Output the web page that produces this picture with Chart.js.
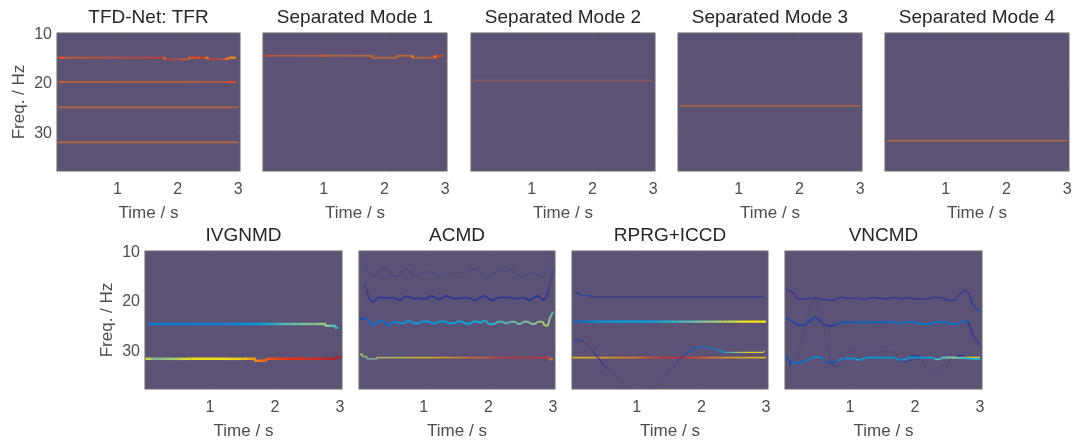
<!DOCTYPE html>
<html>
<head>
<meta charset="utf-8">
<title>TFD-Net</title>
<script src="https://cdn.jsdelivr.net/npm/chart.js@4"></script>
<style>
    html, body { margin: 0; padding: 0; background: #fff; width: 1075px; height: 445px; overflow: hidden; }
    canvas { position: absolute; }
</style>
</head>
<body>
<script>
// Tick labels and titles
const xTickLabels = [1, 2, 3];
const yTickLabels = [10, 20, 30];
const panelTitles = ['TFD-Net: TFR', 'Separated Mode 1', 'Separated Mode 2', 'Separated Mode 3', 'Separated Mode 4',
    'IVGNMD', 'ACMD', 'RPRG+ICCD', 'VNCMD'];

// TFD-Net: TFR
const tfrT1 = [0.03, 1.78, 2.18, 2.5, 2.84, 2.97];
const tfrF1 = [15, 15.3, 15, 15.3, 15, 15];
const tfrA1 = [0.75, 0.8, 0.75, 0.8, 0.75, 0.75];
const tfrT2 = [0.03, 2.97];
const tfrF2 = [19.9, 19.9];
const tfrA2 = [0.75, 0.76];
const tfrT3 = [0.02, 3];
const tfrF3 = [25, 25];
const tfrA3 = [0.74, 0.74];
const tfrT4 = [0.02, 3];
const tfrF4 = [32.1, 32.1];
const tfrA4 = [0.74, 0.74];
const tfrHotT = [0.04, 0.08, 0.11, 1.78, 2.19, 2.25, 2.3, 2.35, 2.4, 2.47, 2.5, 2.81, 2.86, 2.9, 2.94, 0.1, 2.87, 2.92];
const tfrHotF = [15, 15, 15, 15.1, 15, 15, 15, 15, 15, 15, 15.1, 15.2, 15, 15, 15, 19.9, 19.9, 19.9];
const tfrHotA = [0.8, 0.8, 0.78, 0.66, 0.78, 0.8, 0.8, 0.78, 0.8, 0.68, 0.64, 0.7, 0.68, 0.66, 0.68, 0.8, 0.8, 0.8];

// Separated modes
const sep1T = [0.05, 1.8, 2.2, 2.46, 2.83, 2.97];
const sep1F = [14.6, 15, 14.6, 15, 14.6, 14.6];
const sep1A = [0.76, 0.74, 0.74, 0.74, 0.76, 0.78];
const sep1HotT = [0.05, 1.0, 1.8, 2.46, 2.83, 2.86, 2.92];
const sep1HotF = [14.6, 14.6, 14.8, 14.8, 14.8, 15, 14.6];
const sep1HotA = [0.8, 0.78, 0.8, 0.7, 0.66, 0.8, 0.8];
const sep2T = [0.03, 3];
const sep2F = [19.6, 19.6];
const sep2A = [0.75, 0.75];
const sep3T = [0.03, 3];
const sep3F = [24.7, 24.7];
const sep3A = [0.74, 0.74];
const sep4T = [0.03, 3];
const sep4F = [31.8, 31.8];
const sep4A = [0.74, 0.74];

// IVGNMD
const ivgT1 = [0.05, 1.2, 1.8, 2.2, 2.77, 2.92, 2.97];
const ivgF1 = [24.75, 24.75, 24.75, 24.75, 25.1, 25.5, 25.5];
const ivgA1 = [0.32, 0.33, 0.38, 0.47, 0.52, 0.46, 0.42];
const ivgT2 = [0, 0.15, 0.4, 0.7, 1.2, 1.5, 1.69, 1.86, 2.2, 2.5, 2.7, 2.93, 3.03];
const ivgF2 = [31.8, 31.8, 31.8, 31.8, 31.8, 31.8, 32.2, 31.8, 31.8, 31.8, 31.8, 31.5, 31.5];
const ivgA2 = [0.6, 0.5, 0.53, 0.6, 0.6, 0.63, 0.71, 0.76, 0.8, 0.83, 0.88, 0.92, 0.95];

// ACMD
const acmT1 = [0.04, 0.09, 0.15, 0.22, 0.3, 0.39, 0.47, 0.55, 0.63, 0.73, 0.81, 0.91, 1.04, 1.14, 1.24, 1.34, 1.47, 1.55, 1.67, 1.79, 1.88, 1.98, 2.08, 2.18, 2.29, 2.36, 2.44, 2.53, 2.62, 2.72, 2.82, 2.88, 2.95, 2.98];
const acmF1 = [11.5, 12.8, 14.5, 15.4, 14.3, 13.5, 14.3, 15.3, 14.9, 13.6, 14.5, 15, 14.2, 14.3, 15.2, 14.5, 14.3, 14.4, 14.5, 13.5, 14.5, 15.7, 14.5, 13.8, 14.2, 13.6, 14.5, 15.4, 14.5, 14.5, 15.4, 14.2, 11.8, 10.8];
const acmA1 = [0.03, 0.05, 0.07, 0.09, 0.09, 0.09, 0.09, 0.09, 0.09, 0.09, 0.08, 0.08, 0.08, 0.08, 0.08, 0.07, 0.07, 0.07, 0.07, 0.09, 0.08, 0.07, 0.08, 0.08, 0.07, 0.07, 0.08, 0.09, 0.08, 0.08, 0.09, 0.07, 0.04, 0.03];
const acmT2 = [0.08, 0.12, 0.15, 0.22, 0.3, 0.39, 0.47, 0.54, 0.63, 0.73, 0.83, 0.96, 1.04, 1.12, 1.24, 1.34, 1.44, 1.55, 1.67, 1.8, 1.93, 2.06, 2.16, 2.34, 2.44, 2.54, 2.64, 2.76, 2.85, 2.9, 2.95, 3];
const acmF2 = [16.5, 17.9, 19.6, 20.4, 19.4, 19.4, 19.6, 19.4, 20, 19.1, 19.6, 19.6, 19.7, 19, 19.9, 19, 19.6, 19.6, 19.4, 20, 19, 20, 19.4, 19.4, 19.7, 19.4, 20, 19, 20, 19.2, 16.9, 13.8];
const acmA2 = [0.06, 0.09, 0.16, 0.2, 0.18, 0.2, 0.2, 0.2, 0.2, 0.19, 0.2, 0.2, 0.2, 0.2, 0.2, 0.19, 0.2, 0.2, 0.2, 0.2, 0.19, 0.2, 0.19, 0.2, 0.2, 0.19, 0.2, 0.2, 0.2, 0.16, 0.08, 0.05];
const acmT3 = [0.01, 0.09, 0.15, 0.22, 0.3, 0.37, 0.45, 0.52, 0.58, 0.62, 0.7, 0.74, 0.8, 0.84, 0.94, 0.98, 1.08, 1.12, 1.2, 1.24, 1.34, 1.38, 1.48, 1.52, 1.6, 1.64, 1.72, 1.76, 1.84, 1.88, 1.92, 1.96, 2.0, 2.1, 2.14, 2.22, 2.26, 2.3, 2.34, 2.42, 2.46, 2.5, 2.54, 2.62, 2.66, 2.72, 2.76, 2.84, 2.87, 2.92, 2.95, 3];
const acmF3 = [23.8, 23.6, 24.1, 25.1, 24.1, 24.1, 25.1, 24.4, 24.35, 24.6, 24.6, 24.2, 24.2, 24.6, 24.6, 24.25, 24.25, 24.6, 24.6, 24.25, 24.25, 24.6, 24.6, 24.25, 24.25, 24.7, 24.7, 24.25, 24.25, 24.6, 24.1, 24.1, 24.75, 24.75, 24.3, 24.3, 24.6, 24.6, 24.3, 24.3, 24.75, 24.75, 24.3, 24.3, 24.75, 24.75, 24.3, 24.3, 25.1, 25.1, 23.6, 22.3];
const acmA3 = [0.23, 0.26, 0.28, 0.3, 0.3, 0.3, 0.3, 0.33, 0.35, 0.36, 0.37, 0.37, 0.37, 0.38, 0.38, 0.38, 0.38, 0.38, 0.38, 0.38, 0.38, 0.38, 0.39, 0.39, 0.39, 0.4, 0.4, 0.41, 0.42, 0.42, 0.42, 0.43, 0.43, 0.44, 0.45, 0.46, 0.47, 0.47, 0.48, 0.48, 0.49, 0.49, 0.5, 0.5, 0.5, 0.51, 0.52, 0.53, 0.54, 0.54, 0.5, 0.46];
const acmT4 = [0.01, 0.05, 0.12, 0.25, 0.27, 0.6, 1.0, 1.4, 1.7, 2.0, 2.2, 2.5, 2.8, 2.9, 2.93, 2.98];
const acmF4 = [30.9, 31.35, 31.8, 31.8, 31.55, 31.55, 31.55, 31.55, 31.55, 31.55, 31.55, 31.55, 31.55, 31.55, 31.8, 32.2];
const acmA4 = [0.62, 0.55, 0.5, 0.5, 0.54, 0.57, 0.63, 0.68, 0.74, 0.77, 0.82, 0.87, 0.84, 0.8, 0.78, 0.72];

// RPRG+ICCD
const rprT1 = [0.035, 0.11, 0.14, 0.26, 0.29, 1.5, 2.98];
const rprF1 = [18.55, 18.55, 19.03, 19.03, 19.3, 19.3, 19.3];
const rprA1 = [0.2, 0.2, 0.24, 0.24, 0.18, 0.18, 0.17];
const rprT2 = [0.02, 0.5, 1.2, 1.6, 2, 2.4, 2.7, 3];
const rprF2 = [24.28, 24.28, 24.28, 24.28, 24.28, 24.28, 24.28, 24.28];
const rprA2 = [0.28, 0.37, 0.39, 0.44, 0.5, 0.55, 0.6, 0.6];
const rprT3 = [0, 1, 1.4, 1.7, 2, 2.5, 3];
const rprF3 = [31.55, 31.55, 31.55, 31.55, 31.55, 31.55, 31.55];
const rprA3 = [0.63, 0.73, 0.84, 0.86, 0.76, 0.68, 0.64];
const rprT4 = [0.02, 0.06, 0.15, 0.26, 0.39, 0.47, 0.59, 0.75, 0.87, 1.0, 1.26, 1.43, 1.58, 1.69, 1.79, 1.92, 2.12, 2.3, 2.35, 2.45, 2.7, 2.96, 2.98];
const rprF4 = [28.5, 28.05, 28.05, 29.3, 31.35, 32.7, 34.4, 36.4, 37.7, 38.3, 38, 35.4, 33, 31.5, 30.3, 29.5, 29.5, 30.2, 30.5, 30.5, 30.5, 30.5, 30.1];
const rprA4 = [0.25, 0.24, 0.1, 0.05, 0.17, 0.17, 0.05, 0.03, 0.02, 0.01, 0.02, 0.03, 0.05, 0.14, 0.25, 0.3, 0.32, 0.37, 0.4, 0.48, 0.6, 0.61, 0.42];

// VNCMD
const vncT1 = [0.01, 0.1, 0.2, 0.3, 0.46, 0.61, 0.74, 0.84, 1.14, 1.24, 1.34, 1.55, 1.67, 1.8, 1.9, 2.0, 2.18, 2.28, 2.41, 2.51, 2.61, 2.69, 2.77, 2.82, 2.89, 2.99];
const vncF1 = [17.7, 18.2, 19.7, 19.7, 19.4, 19.9, 20, 19.4, 19.6, 19.8, 19.4, 19.7, 19.4, 19.7, 19.4, 19.7, 19.7, 19.4, 19.4, 20, 20, 18.7, 17.9, 18.4, 20.9, 22.3];
const vncA1 = [0.12, 0.13, 0.14, 0.14, 0.13, 0.14, 0.14, 0.13, 0.13, 0.13, 0.13, 0.14, 0.13, 0.14, 0.13, 0.14, 0.14, 0.13, 0.13, 0.14, 0.13, 0.1, 0.1, 0.14, 0.22, 0.26];
const vncT2 = [0.01, 0.1, 0.2, 0.3, 0.46, 0.5, 0.61, 0.71, 0.79, 0.86, 1.4, 1.7, 1.75, 1.8, 2.03, 2.06, 2.26, 2.28, 2.51, 2.54, 2.66, 2.77, 2.82, 2.89, 2.99];
const vncF2 = [23.6, 24.1, 25, 25, 23.4, 23.6, 25, 25.2, 25, 24.4, 24.4, 24.4, 24.75, 24.4, 24.4, 24.75, 24.75, 24.4, 24.4, 24.75, 24.75, 24.1, 24.4, 27, 29];
const vncA2 = [0.24, 0.24, 0.22, 0.22, 0.24, 0.18, 0.14, 0.2, 0.24, 0.26, 0.28, 0.3, 0.3, 0.3, 0.3, 0.31, 0.31, 0.31, 0.31, 0.31, 0.3, 0.3, 0.22, 0.12, 0.08];
const vncT3 = [0.17, 0.28, 0.38, 0.46, 0.56, 0.66, 0.71, 0.76, 0.84, 0.94, 1.01, 1.09, 1.16];
const vncF3 = [32, 27.3, 21.6, 19.4, 23.3, 29.3, 32.7, 33.4, 33, 30.7, 29.8, 31, 32];
const vncA3 = [0.04, 0.04, 0.05, 0.08, 0.05, 0.06, 0.12, 0.16, 0.08, 0.04, 0.04, 0.03, 0.03];
const vncT4 = [1.2, 1.45, 1.6, 1.7, 1.73, 1.85, 2.08, 2.2, 2.31, 2.44, 2.56];
const vncF4 = [31.5, 30.1, 30.4, 30.5, 31.7, 32.4, 31.7, 34, 35.4, 34, 31.7];
const vncA4 = [0.02, 0.04, 0.05, 0.07, 0.1, 0.14, 0.06, 0.04, 0.03, 0.04, 0.06];
const vncT5 = [0.01, 0.07, 0.17, 0.3, 0.4, 0.48, 0.56, 0.63, 0.73, 0.81, 0.89, 1.06, 1.11, 1.19, 1.22, 1.7, 1.73, 1.85, 1.88, 2.28, 2.31, 2.39, 2.41, 2.6, 2.79, 3];
const vncF5 = [31.2, 32.4, 32.6, 32.4, 31.7, 31.4, 31.5, 32.4, 32.7, 32.2, 31.7, 31.7, 32, 31.9, 31.55, 31.55, 31.9, 32, 31.55, 31.55, 31.9, 31.9, 31.55, 31.55, 31.7, 31.9];
const vncA5 = [0.28, 0.24, 0.3, 0.3, 0.33, 0.35, 0.33, 0.28, 0.22, 0.32, 0.35, 0.35, 0.38, 0.38, 0.36, 0.36, 0.38, 0.38, 0.36, 0.38, 0.46, 0.46, 0.45, 0.5, 0.42, 0.42];
const vncT6 = [2.42, 2.6, 2.75, 2.9, 3];
const vncF6 = [31.55, 31.55, 31.55, 31.55, 31.55];
const vncA6 = [0.47, 0.52, 0.68, 0.6, 0.55];
const vncHotT = [1.96, 2.0, 2.04, 2.66, 2.7, 2.74, 1.84, 0.08, 0.12];
const vncHotF = [31.3, 31.3, 31.3, 31.2, 31.2, 31.2, 32.2, 32.7, 32.7];
const vncHotA = [0.2, 0.2, 0.2, 0.2, 0.2, 0.2, 0.2, 0.22, 0.34];

// Colour scale: amplitude 0..1, background up through jet-like colours
const ampStops = [
    [92, 82, 118], [62, 58, 135], [35, 50, 155], [10, 110, 200], [0, 175, 225], [130, 195, 160],
    [245, 230, 20], [250, 160, 15], [235, 50, 20], [190, 35, 45], [120, 30, 30]
];
function ampColor(a, opacity) {
    const p = Math.min(Math.max(a, 0), 1) * (ampStops.length - 1);
    const i = Math.min(Math.floor(p), ampStops.length - 2);
    const c = ampStops[i].map((v, k) => Math.round(v + (ampStops[i + 1][k] - v) * (p - i)));
    return 'rgba(' + c.join(',') + ',' + opacity + ')';
}

// Ridges per panel: data plus line width, opacity, stepped
const panelRidges = [
    [
        { t: tfrT4, f: tfrF4, a: tfrA4, w: 2, o: 0.55 }, { t: tfrT3, f: tfrF3, a: tfrA3, w: 2, o: 0.5 },
        { t: tfrT2, f: tfrF2, a: tfrA2, w: 2, o: 0.55 }, { t: tfrT1, f: tfrF1, a: tfrA1, w: 2, o: 0.55, step: true },
        { t: tfrHotT, f: tfrHotF, a: tfrHotA, dots: true }
    ],
    [
        { t: sep1T, f: sep1F, a: sep1A, w: 2, o: 0.55, step: true },
        { t: sep1HotT, f: sep1HotF, a: sep1HotA, dots: true }
    ],
    [{ t: sep2T, f: sep2F, a: sep2A, w: 1.5, o: 0.35 }],
    [{ t: sep3T, f: sep3F, a: sep3A, w: 1.5, o: 0.55 }],
    [{ t: sep4T, f: sep4F, a: sep4A, w: 1.5, o: 0.55 }],
    [
        { t: ivgT1, f: ivgF1, a: ivgA1, w: 2.5, o: 0.95, step: true },
        { t: ivgT2, f: ivgF2, a: ivgA2, w: 2.5, o: 0.95, step: true }
    ],
    [
        { t: acmT1, f: acmF1, a: acmA1, w: 1.2, o: 0.6 }, { t: acmT2, f: acmF2, a: acmA2, w: 1.6, o: 0.95 },
        { t: acmT3, f: acmF3, a: acmA3, w: 2, o: 0.95 }, { t: acmT4, f: acmF4, a: acmA4, w: 1.6, o: 0.75, step: true }
    ],
    [
        { t: rprT1, f: rprF1, a: rprA1, w: 1.1, o: 0.95, step: true }, { t: rprT2, f: rprF2, a: rprA2, w: 2.2, o: 1 },
        { t: rprT4, f: rprF4, a: rprA4, w: 1.3, o: 0.85 }, { t: rprT3, f: rprF3, a: rprA3, w: 1.8, o: 0.8 }
    ],
    [
        { t: vncT1, f: vncF1, a: vncA1, w: 1.5, o: 0.95 }, { t: vncT3, f: vncF3, a: vncA3, w: 1, o: 0.75 },
        { t: vncT4, f: vncF4, a: vncA4, w: 1, o: 0.75 }, { t: vncT2, f: vncF2, a: vncA2, w: 1.8, o: 1 },
        { t: vncT5, f: vncF5, a: vncA5, w: 1.8, o: 1 }, { t: vncT6, f: vncF6, a: vncA6, w: 1.8, o: 0.9 },
        { t: vncHotT, f: vncHotF, a: vncHotA, dots: true }
    ]
];

// Plot boxes on the page
const panelBoxes = [
    [57, 33, 183], [263, 33, 184], [470.5, 33, 184], [677.5, 33, 184], [884.5, 33, 184],
    [144.5, 251, 197.5], [359, 251, 196.5], [571.5, 251, 196.5], [785, 251, 197]
];
const plotHeight = 138;
const yAxisWidth = 48, titleHeight = 30, xAxisHeight = 53, rightPad = 7;

// Panel background, inward ticks and box
const framePlugin = {
    id: 'frame',
    beforeDatasetsDraw(chart) {
        const { ctx, chartArea: a } = chart;
        ctx.save();
        ctx.fillStyle = 'rgb(92,82,118)';
        ctx.fillRect(a.left, a.top, a.width, a.height);
        ctx.restore();
    },
    afterDraw(chart) {
        const { ctx, chartArea: a, scales } = chart;
        ctx.save();
        ctx.strokeStyle = '#666';
        ctx.lineWidth = 1;
        ctx.strokeRect(a.left, a.top, a.width, a.height);
        ctx.beginPath();
        xTickLabels.forEach(v => {
            const x = Math.round(scales.x.getPixelForValue(v)) + 0.5;
            ctx.moveTo(x, a.top); ctx.lineTo(x, a.top + 2);
            ctx.moveTo(x, a.bottom); ctx.lineTo(x, a.bottom - 2);
        });
        yTickLabels.forEach(v => {
            const y = Math.round(scales.y.getPixelForValue(v)) + 0.5;
            ctx.moveTo(a.left, y); ctx.lineTo(a.left + 2, y);
            ctx.moveTo(a.right, y); ctx.lineTo(a.right - 2, y);
        });
        ctx.stroke();
        ctx.restore();
    }
};

function ridgeDataset(r) {
    const points = r.t.map((t, i) => ({ x: t, y: r.f[i] }));
    if (r.dots) {
        return {
            data: points, showLine: false, pointStyle: 'rect', pointRadius: 1.5, pointBorderWidth: 0,
            pointBackgroundColor: c => ampColor(r.a[c.dataIndex], 1)
        };
    }
    return {
        data: points,
        pointRadius: 0,
        borderWidth: r.w,
        borderColor: ampColor(r.a[0], r.o),
        stepped: r.step || false,
        tension: 0,
        segment: {
            borderColor: c => {
                const g = c.chart.ctx.createLinearGradient(c.p0.x, 0, c.p1.x, 0);
                g.addColorStop(0, ampColor(r.a[c.p0DataIndex], r.o));
                g.addColorStop(1, ampColor(r.a[c.p1DataIndex], r.o));
                return g;
            }
        }
    };
}

panelTitles.forEach((title, n) => {
    const [left, top, width] = panelBoxes[n];
    const showY = n === 0 || n === 5;
    const canvas = document.createElement('canvas');
    canvas.width = yAxisWidth + width + rightPad;
    canvas.height = titleHeight + plotHeight + xAxisHeight;
    canvas.style.left = (left - yAxisWidth) + 'px';
    canvas.style.top = (top - titleHeight) + 'px';
    document.body.appendChild(canvas);

    new Chart(canvas.getContext('2d'), {
        type: 'line',
        data: { datasets: panelRidges[n].map(ridgeDataset) },
        plugins: [framePlugin],
        options: {
            responsive: false,
            animation: false,
            devicePixelRatio: 1,
            layout: { padding: { right: rightPad } },
            plugins: {
                legend: { display: false },
                tooltip: { enabled: false },
                title: {
                    display: true,
                    text: title,
                    fullSize: false,
                    color: '#262626',
                    font: { family: '"Liberation Sans"', size: 19, weight: 'normal', lineHeight: 1 },
                    padding: { top: 5, bottom: 6 }
                }
            },
            scales: {
                x: {
                    type: 'linear',
                    min: 0,
                    max: 3.03,
                    grid: { display: false, drawTicks: false },
                    border: { display: false },
                    afterBuildTicks: s => { s.ticks = xTickLabels.map(v => ({ value: v })); },
                    afterFit: s => { s.height = xAxisHeight; s.paddingLeft = 0; s.paddingRight = 0; },
                    ticks: {
                        color: '#4d4d4d', padding: 9, maxRotation: 0, autoSkip: false,
                        font: { family: '"Liberation Sans"', size: 16 }
                    },
                    title: {
                        display: true, text: 'Time / s', color: '#4d4d4d', padding: 0,
                        font: { family: '"Liberation Sans"', size: 17 }
                    }
                },
                y: {
                    type: 'linear',
                    reverse: true,
                    min: 10,
                    max: 37.9,
                    grid: { display: false, drawTicks: false },
                    border: { display: false },
                    afterBuildTicks: s => { s.ticks = yTickLabels.map(v => ({ value: v })); },
                    afterFit: s => { s.width = yAxisWidth; s.paddingTop = 0; s.paddingBottom = 0; },
                    ticks: {
                        display: showY, color: '#4d4d4d', padding: 5, autoSkip: false, labelOffset: 1.5,
                        font: { family: '"Liberation Sans"', size: 16 }
                    },
                    title: {
                        display: showY, text: 'Freq. / Hz', color: '#4d4d4d', padding: 0,
                        font: { family: '"Liberation Sans"', size: 17 }
                    }
                }
            }
        }
    });
});
</script>
</body>
</html>
